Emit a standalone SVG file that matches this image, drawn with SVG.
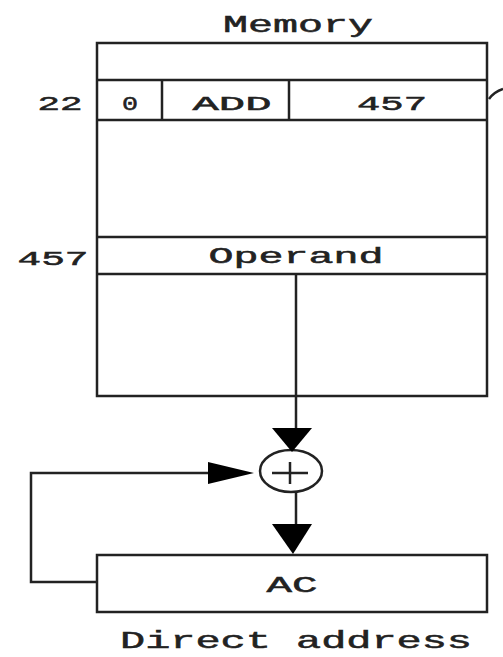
<svg xmlns="http://www.w3.org/2000/svg" width="503" height="657" viewBox="0 0 503 657">
<style>
.box{fill:#fff;stroke:#222;stroke-width:2.5}
.ln{fill:none;stroke:#222;stroke-width:2.5}
.t{font-family:"Liberation Mono","Courier New",monospace;fill:#222;text-anchor:middle;stroke:#222;stroke-width:0.5}
.ah{fill:#000}
</style>
<rect width="503" height="657" fill="#fff"/>
<g id="memory">
<rect class="box" x="97" y="43" width="390" height="353"/>
<line class="ln" x1="97" y1="80" x2="487" y2="80"/>
<line class="ln" x1="97" y1="120" x2="487" y2="120"/>
<line class="ln" x1="162" y1="80" x2="162" y2="120"/>
<line class="ln" x1="289" y1="80" x2="289" y2="120"/>
<line class="ln" x1="97" y1="237" x2="487" y2="237"/>
<line class="ln" x1="97" y1="274" x2="487" y2="274"/>
<text class="t" x="298" y="32" font-size="23" textLength="150" lengthAdjust="spacingAndGlyphs">Memory</text>
<text class="t" x="60" y="110" font-size="20" textLength="45" lengthAdjust="spacingAndGlyphs">22</text>
<text class="t" x="130" y="110" font-size="20" textLength="16" lengthAdjust="spacingAndGlyphs">0</text>
<text class="t" x="232" y="110" font-size="20" textLength="79" lengthAdjust="spacingAndGlyphs">ADD</text>
<text class="t" x="392" y="110" font-size="20" textLength="70" lengthAdjust="spacingAndGlyphs">457</text>
<text class="t" x="53" y="265" font-size="20" textLength="71" lengthAdjust="spacingAndGlyphs">457</text>
<text class="t" x="296" y="263" font-size="22" textLength="175" lengthAdjust="spacingAndGlyphs">Operand</text>
</g>
<g id="adder">
<ellipse class="box" cx="291" cy="471" rx="31" ry="21"/>
<line class="ln" x1="272" y1="473" x2="308" y2="473"/>
<line class="ln" x1="290" y1="462" x2="290" y2="484"/>
</g>
<g id="ac">
<rect class="box" x="97" y="555" width="390" height="57"/>
<text class="t" x="292" y="592" font-size="22" textLength="51" lengthAdjust="spacingAndGlyphs">AC</text>
</g>
<g id="connectors">
<line class="ln" x1="296" y1="274" x2="296" y2="430"/>
<polygon class="ah" points="272,428 312,428 292,452"/>
<line class="ln" x1="296" y1="492" x2="296" y2="526"/>
<polygon class="ah" points="272,524 312,524 293,554"/>
<polyline class="ln" points="97,582 31,582 31,473 212,473"/>
<polygon class="ah" points="208,462 208,484 254,473"/>
<path class="ln" d="M489,99 Q494,92 503,89"/>
</g>
<text class="t" x="296" y="648" font-size="24" textLength="352" lengthAdjust="spacingAndGlyphs">Direct address</text>
</svg>
